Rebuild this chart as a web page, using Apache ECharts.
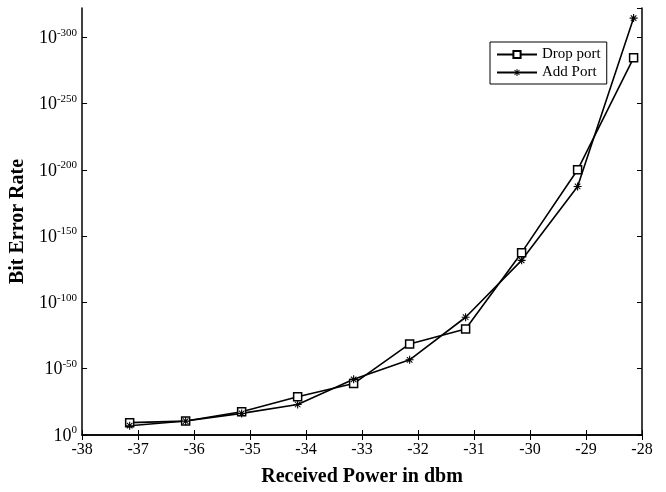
<!DOCTYPE html>
<html><head><meta charset="utf-8">
<script src="https://cdn.jsdelivr.net/npm/echarts@6/dist/echarts.min.js"></script>
<style>html,body{margin:0;padding:0;background:#fff}#c{width:666px;height:492px}</style>
</head><body><div id="c"></div>
<script>
var xValues = [-37.15, -36.15, -35.15, -34.15, -33.15, -32.15, -31.15, -30.15, -29.15, -28.15];
// values are the magnitude of the BER exponent (BER = 10^-v)
var dropPort = [9.3, 10.5, 17.5, 28.8, 38.8, 68.7, 80, 137.5, 200, 284.4];
var addPort = [7, 10.5, 16.3, 23, 42, 56.7, 88.8, 131.7, 187.4, 314.4];
var seriesNames = ['Drop port', 'Add Port'];

function pairs(xs, ys) { return xs.map(function (x, i) { return [x, ys[i]]; }); }
var FONT = 'Liberation Serif';
var asterisk = 'path://M-0.7,-5 L0.7,-5 L0.7,5 L-0.7,5 Z M-5,-0.7 L5,-0.7 L5,0.7 L-5,0.7 Z ' +
  'M-3.9,-3 L-3,-3.9 L3.9,3 L3,3.9 Z M3,-3.9 L3.9,-3 L-3,3.9 L-3.9,3 Z';

var chart = echarts.init(document.getElementById('c'), null, {renderer: 'canvas'});
chart.setOption({
  animation: false,
  backgroundColor: '#fff',
  grid: {left: 78, right: 24, top: 8, bottom: 54},
  legend: {
    orient: 'vertical', left: 490, top: 42,
    width: 116,
    backgroundColor: '#fff',
    borderColor: '#000', borderWidth: 1,
    padding: [5, 6, 4, 6],
    itemGap: 3,
    itemWidth: 40, itemHeight: 9,
    textStyle: {fontFamily: FONT, fontSize: 15, color: '#000'},
    data: seriesNames
  },
  xAxis: [{
    type: 'value', min: -38, max: -28, interval: 1,
    name: 'Received Power in dbm', nameLocation: 'middle', nameGap: 32,
    nameTextStyle: {fontFamily: FONT, fontSize: 20, fontWeight: 'bold', color: '#000'},
    axisLine: {lineStyle: {color: '#000', width: 1.5}},
    axisTick: {inside: true, length: 5, lineStyle: {color: '#000'}},
    axisLabel: {fontFamily: FONT, fontSize: 16, color: '#000', margin: 7},
    splitLine: {show: false}
  }, {
    type: 'value', min: -38, max: -28, interval: 1, position: 'top',
    axisLine: {show: true, lineStyle: {color: '#000', width: 1.5}},
    axisTick: {inside: true, length: 5, lineStyle: {color: '#000'}},
    axisLabel: {show: false}, splitLine: {show: false}
  }],
  yAxis: [{
    type: 'value', min: 0, max: 322, interval: 50,
    name: 'Bit Error Rate', nameLocation: 'middle', nameGap: 46,
    nameTextStyle: {fontFamily: FONT, fontSize: 20, fontWeight: 'bold', color: '#000'},
    axisLine: {lineStyle: {color: '#000', width: 1.5}},
    axisTick: {inside: true, length: 5, lineStyle: {color: '#000'}},
    axisLabel: {
      margin: 5, showMaxLabel: false,
      formatter: function (v) {
        if (v % 50 !== 0) return '';
        return '{b|10}{s|' + (v === 0 ? '0' : '-' + v) + '}';
      },
      rich: {
        b: {fontFamily: FONT, fontSize: 18, color: '#000', verticalAlign: 'bottom'},
        s: {fontFamily: FONT, fontSize: 11, color: '#000', verticalAlign: 'bottom', padding: [0, 0, 9, 0]}
      }
    },
    splitLine: {show: false}
  }, {
    type: 'value', min: 0, max: 322, interval: 50, position: 'right',
    axisLine: {show: true, lineStyle: {color: '#000', width: 1.5}},
    axisTick: {inside: true, length: 5, lineStyle: {color: '#000'}},
    axisLabel: {show: false}, splitLine: {show: false}
  }],
  series: [{
    name: seriesNames[0], type: 'line', data: pairs(xValues, dropPort),
    symbol: 'rect', symbolSize: 8,
    lineStyle: {color: '#000', width: 1.6},
    itemStyle: {color: '#fff', borderColor: '#000', borderWidth: 1.5}
  }, {
    name: seriesNames[1], type: 'line', data: pairs(xValues, addPort),
    symbol: asterisk, symbolSize: 8,
    lineStyle: {color: '#000', width: 1.6},
    itemStyle: {color: '#000', borderColor: '#000', borderWidth: 0}
  }]
});
</script></body></html>
